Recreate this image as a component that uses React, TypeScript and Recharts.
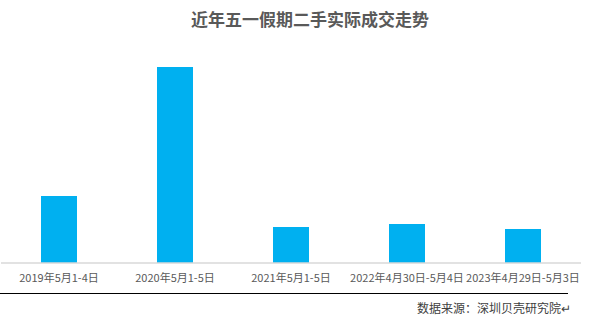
import React from 'react';
import { BarChart, Bar, XAxis, YAxis } from 'recharts';

const categories = ['2019年5月1-4日', '2020年5月1-5日', '2021年5月1-5日', '2022年4月30日-5月4日', '2023年4月29日-5月3日'];
const values = [67, 196, 36, 39, 34];
const title = '近年五一假期二手实际成交走势';
const source = '数据来源：深圳贝壳研究院↵';

const data = categories.map((c, i) => ({ name: c, value: values[i] }));

const font = '"Noto Sans CJK SC", "Noto Sans", sans-serif';

export default function App() {
  return (
    <div style={{ position: 'fixed', left: 0, top: 0, width: 600, height: 321, background: '#fff', fontFamily: font }}>
      <div style={{ position: 'absolute', left: 10, width: 600, top: 7, textAlign: 'center', fontSize: 17, lineHeight: '24px', fontWeight: 'bold', color: '#595959' }}>
        {title}
      </div>
      <BarChart width={600} height={321} data={data} margin={{ top: 63, right: 19, bottom: 28, left: 1 }}>
        <YAxis hide domain={[0, 200]} />
        <XAxis
          dataKey="name"
          height={30}
          tickLine={false}
          tickMargin={5}
          axisLine={{ stroke: '#D9D9D9', strokeWidth: 1.5 }}
          tick={{ fontSize: 11, fill: '#595959', fontFamily: font }}
          interval={0}
        />
        <Bar dataKey="value" fill="#00B0F0" barSize={36} isAnimationActive={false} />
      </BarChart>
      <div style={{ position: 'absolute', left: 0, top: 293, width: 568, height: 0, borderTop: '1.5px solid #000' }} />
      <div style={{ position: 'absolute', right: 29, top: 299, fontSize: 12, lineHeight: '18px', color: '#404040', whiteSpace: 'nowrap' }}>
        {source}
      </div>
    </div>
  );
}
